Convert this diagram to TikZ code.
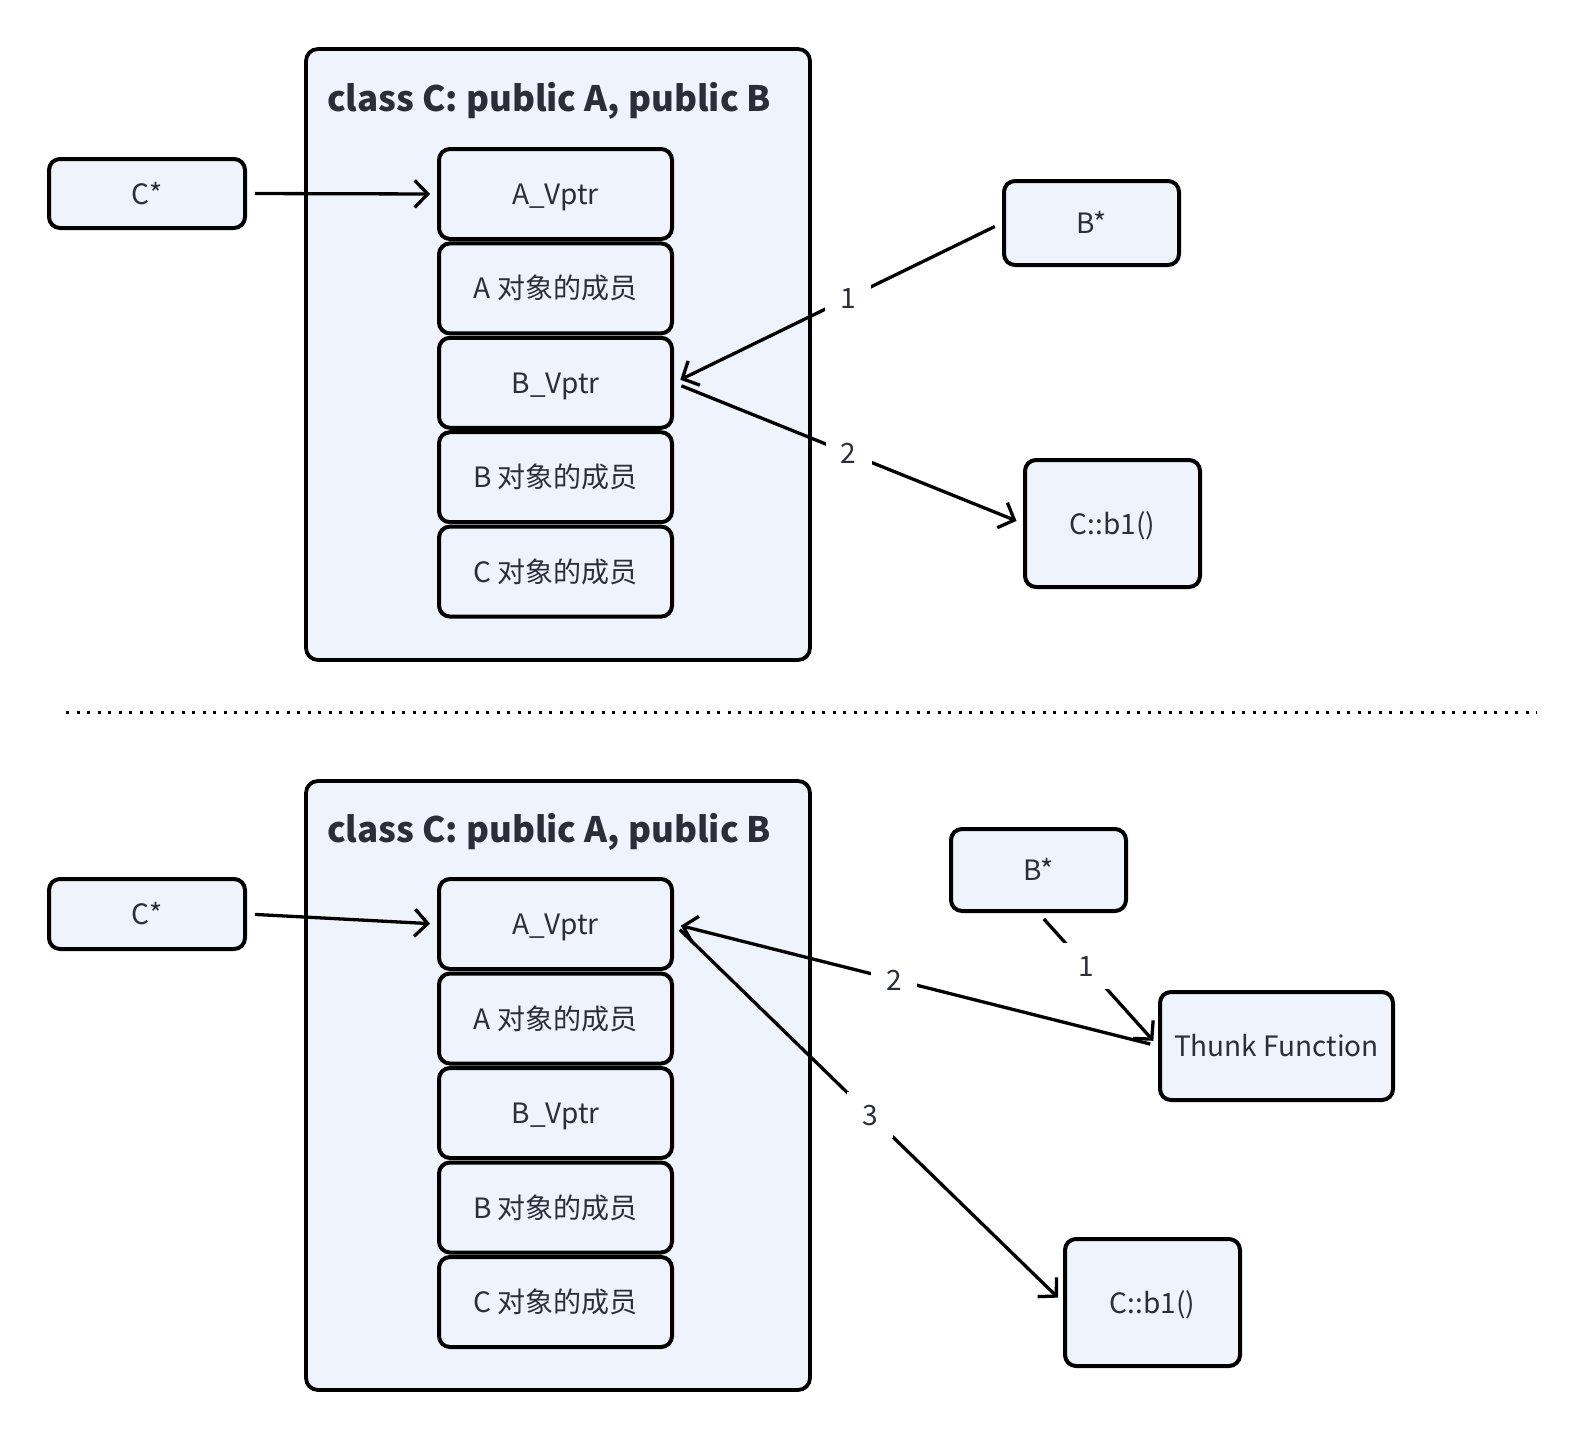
\documentclass[tikz,border=0pt]{standalone}
\usepackage{fontspec}
\setmainfont{Noto Sans CJK SC}
\usetikzlibrary{arrows.meta}
\definecolor{boxfill}{HTML}{EFF4FC}
\definecolor{txt}{HTML}{2B2E38}
\newcommand{\fs}{\fontsize{28pt}{32pt}\selectfont}
\newcommand{\ft}{\fontsize{35pt}{40pt}\selectfont\bfseries}
\tikzset{
  box/.style={draw=black, line width=4pt, rounded corners=11pt, fill=boxfill, text=txt, font=\fs, inner sep=0pt, text height=23pt, text depth=2pt},
  outerbox/.style={draw=black, line width=3.8pt, rounded corners=12pt, fill=boxfill, inner sep=0pt},
  ttl/.style={text=txt, font=\ft, anchor=west, inner sep=0pt, text height=26pt, text depth=0pt},
  arr/.style={-{Straight Barb[length=13pt,width=27pt,line width=3.3pt]}, line width=3.3pt, shorten >=7pt, shorten <=8pt},
  lbl/.style={fill=white, text=txt, minimum size=46pt, inner sep=0pt, font=\fs, text height=23pt, text depth=2pt},
  cell/.style={box, minimum width=233pt, minimum height=90pt}
}
\begin{document}
\begin{tikzpicture}[x=1pt,y=-1pt]
\useasboundingbox (0,0) rectangle (1596,1440);
% ---------- top ----------
\node[outerbox, minimum width=504pt, minimum height=611pt] (outerT) at (558,354.5) {};
\node[ttl] (titleT) at (327,98) {class C: public A, public B};
\node[cell] (avT) at (555.5,194) {A\_Vptr};
\node[cell] (amT) at (555.5,288.4) {A 对象的成员};
\node[cell] (bvT) at (555.5,382.8) {B\_Vptr};
\node[cell] (bmT) at (555.5,477.2) {B 对象的成员};
\node[cell] (cmT) at (555.5,571.6) {C 对象的成员};
\node[box, minimum width=196pt, minimum height=69pt] (cpT) at (147,193.5) {C*};
\node[box, minimum width=175pt, minimum height=84pt] (bpT) at (1091.5,223) {B*};
\node[box, minimum width=175pt, minimum height=127pt] (fnT) at (1112.5,523.5) {C::b1()};
\draw[arr] (cpT.east) -- (avT.west);
\draw[arr] (bpT.west) -- node[lbl, pos=0.47] {1} (bvT.east);
\draw[arr] (bvT.east) -- node[lbl, pos=0.5] {2} (fnT.west);
% ---------- separator ----------
\coordinate (sepL) at (66,712);
\coordinate (sepR) at (1537,712);
\draw[line width=3pt, dash pattern=on 3pt off 7.5pt] (sepL) -- (sepR);
% ---------- bottom ----------
\node[outerbox, minimum width=504pt, minimum height=609pt] (outerB) at (558,1085.5) {};
\node[ttl] (titleB) at (327,829) {class C: public A, public B};
\node[cell] (avB) at (555.5,924) {A\_Vptr};
\node[cell] (amB) at (555.5,1018.5) {A 对象的成员};
\node[cell] (bvB) at (555.5,1113) {B\_Vptr};
\node[cell] (bmB) at (555.5,1207.5) {B 对象的成员};
\node[cell] (cmB) at (555.5,1302) {C 对象的成员};
\node[box, minimum width=196pt, minimum height=70pt] (cpB) at (147,914) {C*};
\node[box, minimum width=175pt, minimum height=82pt] (bpB) at (1038.5,870) {B*};
\node[box, minimum width=233pt, minimum height=108pt] (thB) at (1276.5,1046) {Thunk Function};
\node[box, minimum width=175pt, minimum height=127pt] (fnB) at (1152.5,1302.5) {C::b1()};
\draw[arr] (cpB.east) -- (avB.west);
\draw[arr] (bpB.south) -- node[lbl, pos=0.4] {1} (thB.west);
\draw[arr] (thB.west) -- node[lbl, pos=0.545] {2} (avB.east);
\draw[arr] (avB.east) -- node[lbl, pos=0.504] {3} (fnB.west);
\end{tikzpicture}
\end{document}
